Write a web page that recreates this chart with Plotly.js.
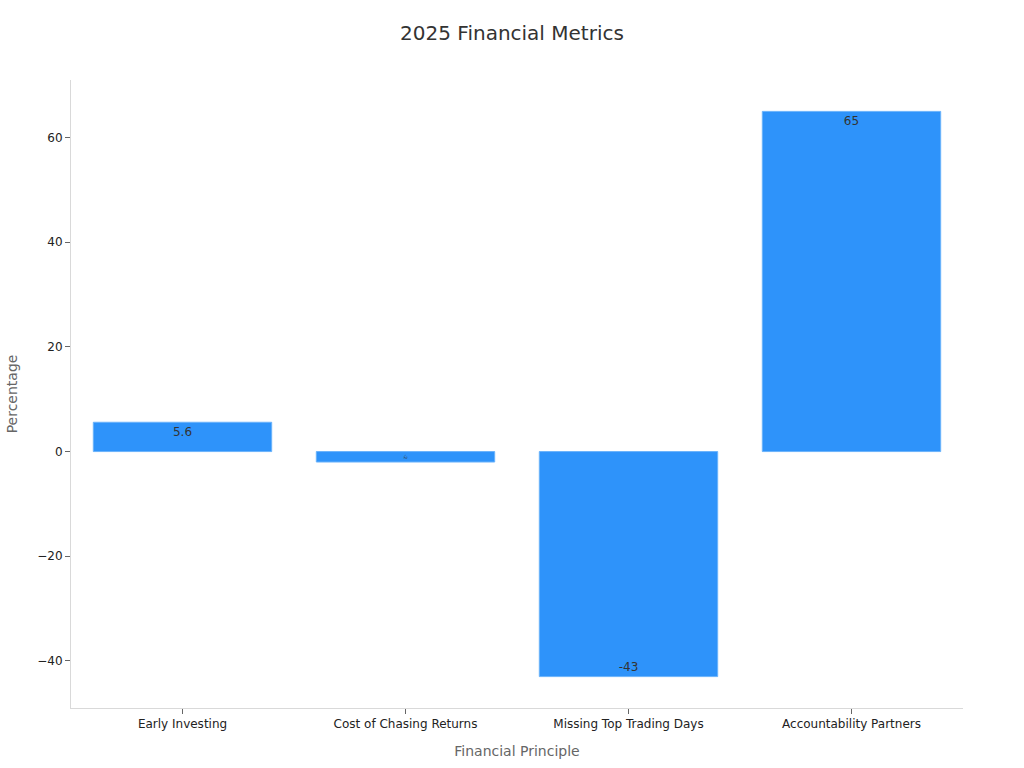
<!DOCTYPE html>
<html>
<head>
<meta charset="utf-8">
<script src="https://cdn.plot.ly/plotly-3.0.1.min.js"></script>
<style>
  body { margin: 0; background: #fff; }
  #graph { width: 1024px; height: 768px; }
</style>
</head>
<body>
<div id="graph"></div>
<script>
// values
var principles = ["Early Investing", "Cost of Chasing Returns", "Missing Top Trading Days", "Accountability Partners"]
var percentages = [5.6, -2, -43, 65]
var barLabels = ["5.6", "-2", "-43", "65"]

var trace1 = {
    x: principles,
    y: percentages,
    type: "bar",
    text: barLabels,
    textposition: "inside",
    insidetextanchor: "end",
    textfont: {family: "DejaVu Sans", size: 12, color: "#333"},
    marker: {
        color: "#2E93FA",
        line: {color: "#6BB3FB", width: 1}
    },
    hoverinfo: "x+y"
}

var layout = {
    width: 1024,
    height: 768,
    font: {family: "DejaVu Sans", size: 12, color: "#222"},
    paper_bgcolor: "#fff",
    plot_bgcolor: "#fff",
    margin: {l: 71, r: 61, t: 80, b: 60},
    bargap: 0.2,
    showlegend: false,
    title: {
        text: "2025 Financial Metrics",
        font: {family: "DejaVu Sans", size: 20, color: "#333"},
        x: 0.5,
        xanchor: "center",
        yref: "container",
        y: 0.957,
        yanchor: "middle"
    },
    xaxis: {
        title: {text: "Financial Principle", font: {size: 14, color: "#666"}, standoff: 15},
        showgrid: false,
        zeroline: false,
        showline: true,
        linecolor: "#d9d9d9",
        linewidth: 1,
        ticks: "outside",
        ticklen: 5,
        tickcolor: "#666",
        tickfont: {size: 12, color: "#222"}
    },
    yaxis: {
        title: {text: "Percentage", font: {size: 14, color: "#666"}, standoff: 16},
        showgrid: false,
        zeroline: false,
        showline: true,
        linecolor: "#d9d9d9",
        linewidth: 1,
        ticks: "outside",
        ticklen: 5,
        tickcolor: "#666",
        tickfont: {size: 12, color: "#222"},
        dtick: 20
    }
}

Plotly.newPlot("graph", [trace1], layout, {displayModeBar: false})
</script>
</body>
</html>
